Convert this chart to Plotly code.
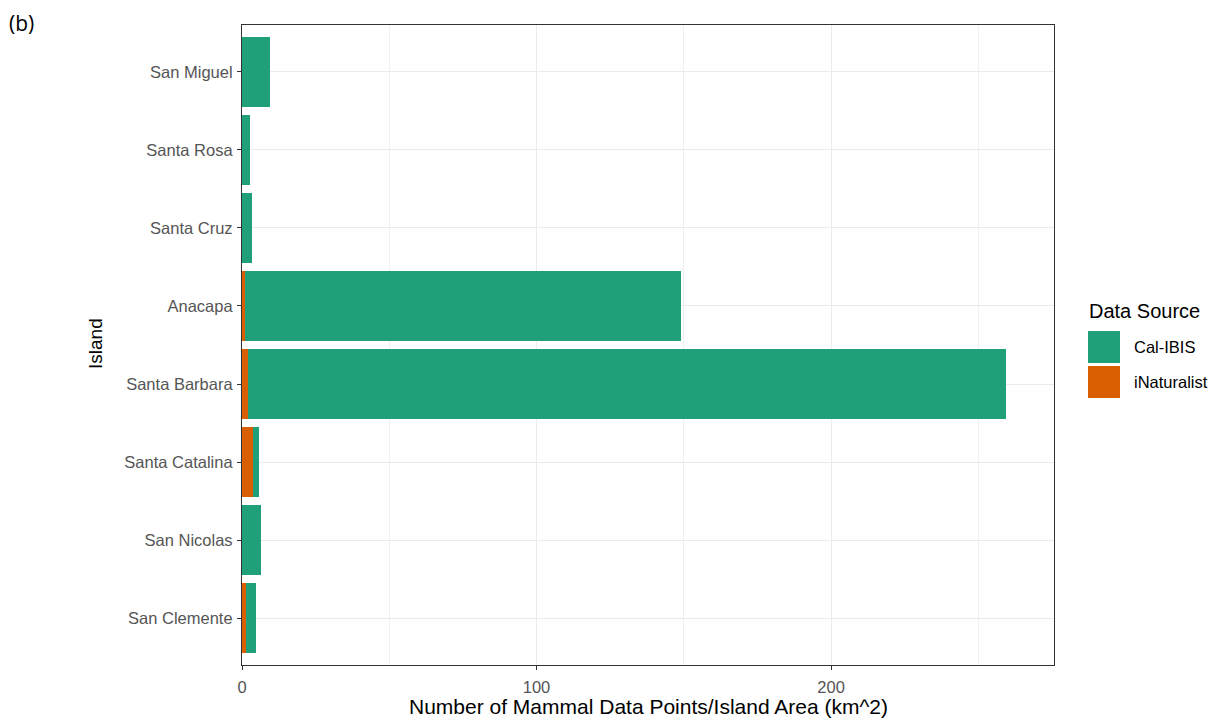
import plotly.graph_objects as go

islands = ["San Miguel", "Santa Rosa", "Santa Cruz", "Anacapa",
           "Santa Barbara", "Santa Catalina", "San Nicolas", "San Clemente"]
cal_ibis = [9.5, 2.6, 3.5, 148.1, 257.4, 2.0, 6.6, 3.4]
inaturalist = [0.0, 0.0, 0.0, 1.0, 2.0, 3.9, 0.0, 1.2]
x_ticks = [0, 100, 200]

GREEN = "#1FA079"
ORANGE = "#D95F02"
FONT = "Liberation Sans, Arial, sans-serif"

fig = go.Figure()
# iNaturalist sits at the base of each stack, Cal-IBIS on top of it
fig.add_trace(go.Bar(y=islands, x=inaturalist, orientation="h", name="iNaturalist",
                     marker=dict(color=ORANGE, line=dict(width=0)), width=0.9,
                     showlegend=False))
fig.add_trace(go.Bar(y=islands, x=cal_ibis, orientation="h", name="Cal-IBIS",
                     marker=dict(color=GREEN, line=dict(width=0)), width=0.9,
                     showlegend=False))

fig.update_layout(
    width=1215, height=728,
    barmode="stack",
    plot_bgcolor="white", paper_bgcolor="white",
    margin=dict(l=242, r=161, t=25, b=63, autoexpand=False),
    font=dict(family=FONT, color="#4D4D4D"),
    xaxis=dict(
        range=[0, 275.7], tickvals=x_ticks, ticktext=[str(v) for v in x_ticks],
        showgrid=True, gridcolor="#EBEBEB", gridwidth=1.2,
        minor=dict(dtick=50, tick0=0, showgrid=True, gridcolor="#F0F0F0", gridwidth=0.8),
        ticks="outside", ticklen=4, tickcolor="#333333", tickwidth=1,
        tickfont=dict(size=16.5, color="#555555"), ticklabelstandoff=3,
        showline=True, linecolor="#333333", linewidth=1.2, mirror=True,
        zeroline=False,
    ),
    yaxis=dict(
        categoryorder="array", categoryarray=islands[::-1],
        range=[-0.6, 7.6],
        showgrid=True, gridcolor="#EBEBEB", gridwidth=1.2,
        ticks="outside", ticklen=4, tickcolor="#333333", tickwidth=1,
        tickfont=dict(size=16.5, color="#555555"), ticklabelstandoff=1,
        showline=True, linecolor="#333333", linewidth=1.2, mirror=True,
        zeroline=False,
    ),
)

pw, ph = 1215 - 242 - 161, 728 - 25 - 63
def px(xp):
    return (xp - 242) / pw
def py(yp):
    return (728 - 63 - yp) / ph

annotations = [
    dict(text="(b)", xref="paper", yref="paper", x=px(7), y=py(23),
         xanchor="left", yanchor="middle", showarrow=False,
         font=dict(family="Open Sans, Liberation Sans, sans-serif", size=21, color="black")),
    dict(text="Number of Mammal Data Points/Island Area (km^2)", xref="paper", yref="paper",
         x=0.5, y=py(706), xanchor="center", yanchor="middle", showarrow=False,
         font=dict(size=21, color="black")),
    dict(text="Island", xref="paper", yref="paper", x=px(95), y=py(344),
         xanchor="center", yanchor="middle", textangle=-90, showarrow=False,
         font=dict(size=19, color="black")),
    dict(text="Data Source", xref="paper", yref="paper",
         x=px(1087), y=py(311), xanchor="left", yanchor="middle",
         showarrow=False, font=dict(size=20, color="black")),
]

# Legend keys drawn to the right of the panel
shapes = []
for label, color, top in [("Cal-IBIS", GREEN, 331), ("iNaturalist", ORANGE, 366)]:
    shapes.append(dict(type="rect", xref="paper", yref="paper",
                       x0=px(1088), x1=px(1120), y0=py(top + 32), y1=py(top),
                       fillcolor=color, line=dict(width=0)))
    annotations.append(dict(text=label, xref="paper", yref="paper",
                            x=px(1132), y=py(top + 16), xanchor="left", yanchor="middle",
                            showarrow=False, font=dict(size=16.5, color="black")))

fig.update_layout(annotations=annotations, shapes=shapes)
fig.write_html("out.html")
